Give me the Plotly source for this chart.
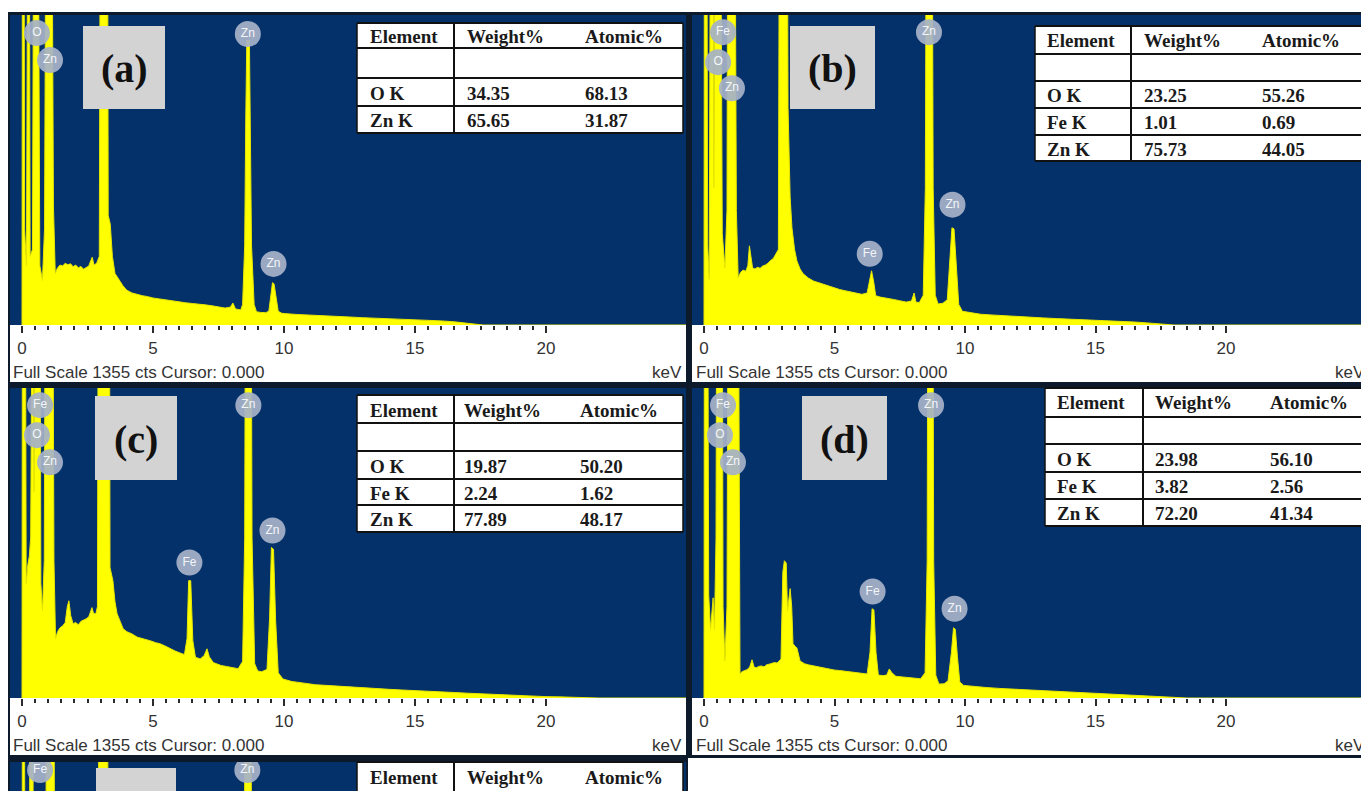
import plotly.graph_objects as go

W, H = 1369, 791
FULL_SCALE = 1355          # "Full Scale 1355 cts"
CURSOR = "0.000"
TICK_KEV = [0, 5, 10, 15, 20]
TABLE_HEADER = ["Element", "Weight%", "Atomic%"]

# ---------------- spectra: (keV, counts) ----------------
spectrum_a = [
    (0.00, 0), (0.02, 2500), (0.07, 2500), (0.10, 420), (0.17, 260), (0.24, 2500), (0.27, 2500),
    (0.31, 300), (0.40, 330), (0.46, 2500), (0.60, 2500), (0.68, 260), (0.78, 195), (0.86, 420),
    (0.93, 2500), (1.12, 2500), (1.20, 520), (1.27, 225), (1.35, 248), (1.45, 262), (1.55, 258),
    (1.65, 270), (1.75, 263), (1.85, 268), (1.95, 255), (2.05, 262), (2.15, 250), (2.25, 256),
    (2.35, 244), (2.45, 250), (2.55, 258), (2.62, 280), (2.68, 296), (2.75, 262), (2.85, 270),
    (2.95, 300), (3.00, 2500), (3.26, 2500), (3.29, 480), (3.37, 440), (3.45, 300), (3.55, 225),
    (3.65, 205), (3.75, 190), (3.85, 172), (4.00, 152), (4.20, 140), (4.40, 133), (4.60, 128),
    (4.80, 124), (5.00, 118), (5.25, 114), (5.50, 109), (5.75, 105), (6.00, 101), (6.25, 97),
    (6.50, 94), (6.75, 92), (7.00, 88), (7.25, 84), (7.50, 79), (7.75, 74), (7.95, 78),
    (8.05, 96), (8.15, 70), (8.35, 66), (8.42, 90), (8.50, 350), (8.54, 900), (8.58, 1245),
    (8.68, 1245), (8.72, 900), (8.76, 350), (8.86, 90), (8.95, 58), (9.10, 55), (9.30, 54),
    (9.42, 60), (9.50, 140), (9.56, 185), (9.62, 180), (9.70, 110), (9.78, 60), (9.90, 52),
    (10.0, 50), (10.5, 46), (11.0, 44), (11.5, 41), (12.0, 38), (12.5, 35), (13.0, 32),
    (13.5, 30), (14.0, 28), (14.5, 26), (15.0, 24), (15.5, 21), (16.0, 18), (16.5, 14),
    (17.0, 9), (17.3, 4), (17.6, 0), (25.5, 0),
]
spectrum_b = [
    (0.00, 0), (0.02, 2500), (0.10, 2500), (0.14, 350), (0.20, 200), (0.26, 2500), (0.34, 2500),
    (0.38, 600), (0.43, 2500), (0.62, 2500), (0.70, 400), (0.80, 250), (0.88, 500), (0.92, 2500),
    (1.17, 2500), (1.24, 500), (1.31, 206), (1.40, 230), (1.50, 240), (1.60, 235), (1.68, 260),
    (1.74, 346), (1.80, 300), (1.86, 250), (1.95, 245), (2.05, 252), (2.15, 248), (2.25, 258),
    (2.35, 262), (2.45, 270), (2.55, 282), (2.65, 290), (2.75, 310), (2.85, 330), (2.90, 2500),
    (3.18, 2500), (3.22, 950), (3.30, 560), (3.37, 425), (3.47, 330), (3.56, 280), (3.68, 245),
    (3.80, 224), (4.00, 205), (4.20, 192), (4.40, 184), (4.60, 178), (4.80, 170), (5.00, 162),
    (5.20, 155), (5.40, 150), (5.60, 145), (5.85, 140), (6.05, 134), (6.25, 140), (6.35, 200),
    (6.42, 237), (6.50, 190), (6.58, 128), (6.75, 122), (7.00, 118), (7.25, 112), (7.50, 106),
    (7.75, 100), (7.95, 105), (8.05, 140), (8.12, 100), (8.25, 98), (8.40, 130), (8.48, 600),
    (8.53, 2500), (8.73, 2500), (8.78, 600), (8.86, 130), (8.97, 92), (9.15, 95), (9.32, 110),
    (9.42, 300), (9.50, 425), (9.58, 420), (9.66, 280), (9.76, 90), (9.90, 60), (10.2, 53),
    (10.6, 47), (11.0, 44), (11.5, 40), (12.0, 37), (12.5, 34), (13.0, 31), (13.5, 28),
    (14.0, 26), (14.5, 24), (15.0, 22), (15.5, 19), (16.0, 16), (16.5, 13), (17.0, 9),
    (17.5, 5), (18.0, 0), (25.5, 0),
]
spectrum_c = [
    (0.00, 0), (0.02, 2500), (0.12, 2500), (0.16, 500), (0.22, 580), (0.28, 620), (0.33, 700),
    (0.36, 2500), (0.42, 2500), (0.46, 900), (0.50, 2500), (0.68, 2500), (0.72, 500), (0.78, 380),
    (0.85, 600), (0.90, 2500), (1.16, 2500), (1.22, 600), (1.28, 260), (1.36, 290), (1.45, 307),
    (1.55, 315), (1.65, 330), (1.73, 400), (1.79, 425), (1.86, 360), (1.95, 325), (2.05, 330),
    (2.15, 320), (2.25, 335), (2.35, 340), (2.45, 346), (2.55, 355), (2.62, 380), (2.67, 395),
    (2.73, 370), (2.82, 368), (2.88, 400), (2.92, 2500), (3.33, 2500), (3.36, 570), (3.47, 513),
    (3.55, 420), (3.63, 368), (3.75, 330), (3.86, 303), (4.00, 290), (4.20, 280), (4.40, 266),
    (4.50, 263), (4.70, 258), (4.90, 250), (5.10, 242), (5.27, 237), (5.45, 228), (5.65, 215),
    (5.85, 205), (6.03, 197), (6.20, 190), (6.30, 260), (6.36, 513), (6.44, 513), (6.52, 250),
    (6.62, 178), (6.80, 171), (6.95, 185), (7.06, 215), (7.15, 180), (7.30, 155), (7.44, 149),
    (7.60, 142), (7.80, 138), (8.05, 132), (8.25, 128), (8.42, 160), (8.50, 700), (8.54, 2500),
    (8.73, 2500), (8.78, 700), (8.88, 150), (9.00, 118), (9.15, 115), (9.35, 125), (9.45, 350),
    (9.52, 658), (9.60, 650), (9.68, 340), (9.78, 110), (9.96, 83), (10.3, 72), (10.7, 66),
    (11.2, 58), (11.9, 53), (12.5, 48), (13.0, 44), (13.5, 41), (14.0, 38), (14.5, 35),
    (15.0, 33), (15.5, 30), (16.0, 27), (16.5, 24), (17.0, 21), (17.5, 18), (18.0, 15),
    (18.5, 12), (19.0, 10), (19.5, 8), (20.0, 6), (20.5, 5), (21.0, 4), (21.5, 2), (22.0, 0),
    (25.5, 0),
]
spectrum_d = [
    (0.00, 0), (0.02, 2500), (0.13, 2500), (0.18, 450), (0.25, 300), (0.31, 380), (0.35, 438),
    (0.40, 300), (0.46, 700), (0.50, 2500), (0.69, 2500), (0.73, 400), (0.80, 162), (0.88, 400),
    (0.94, 2500), (1.30, 2500), (1.35, 400), (1.38, 105), (1.45, 115), (1.55, 118), (1.65, 124),
    (1.75, 135), (1.84, 167), (1.92, 135), (2.00, 132), (2.10, 138), (2.20, 140), (2.30, 136),
    (2.40, 145), (2.50, 148), (2.60, 150), (2.70, 155), (2.80, 153), (2.95, 170), (3.02, 550),
    (3.08, 600), (3.15, 590), (3.20, 380), (3.24, 420), (3.30, 478), (3.36, 400), (3.41, 237),
    (3.50, 225), (3.56, 219), (3.68, 162), (3.85, 150), (4.00, 145), (4.20, 140), (4.40, 136),
    (4.56, 132), (4.80, 127), (5.00, 122), (5.20, 120), (5.45, 116), (5.65, 114), (5.86, 110),
    (6.05, 106), (6.25, 105), (6.36, 200), (6.44, 390), (6.51, 385), (6.59, 200), (6.68, 100),
    (6.85, 98), (7.00, 100), (7.10, 127), (7.20, 110), (7.35, 95), (7.60, 92), (7.85, 88),
    (8.10, 86), (8.30, 84), (8.47, 110), (8.55, 600), (8.59, 2500), (8.76, 2500), (8.80, 600),
    (8.88, 100), (9.00, 61), (9.20, 62), (9.35, 75), (9.48, 200), (9.56, 307), (9.63, 300),
    (9.71, 180), (9.80, 70), (9.95, 55), (10.3, 50), (10.8, 46), (11.3, 42), (11.8, 39),
    (12.5, 35), (13.0, 32), (13.5, 29), (14.0, 27), (14.5, 25), (15.0, 22), (15.5, 19),
    (16.0, 16), (16.5, 13), (17.0, 10), (17.5, 6), (18.0, 3), (18.5, 0), (25.5, 0),
]
spectrum_e = [
    (0.00, 0), (0.02, 2500), (0.08, 2500), (0.12, 300), (0.28, 300), (0.31, 2500), (0.40, 2500),
    (0.44, 400), (0.90, 400), (0.95, 2500), (1.20, 2500), (1.26, 300), (2.90, 300), (2.95, 2500),
    (3.25, 2500), (3.30, 300), (8.45, 100), (8.55, 2500), (8.70, 2500), (8.80, 100), (25.5, 0),
]

# ---------------- peak identification labels: text, keV, counts ----------------
label_text_a = ["O", "Zn", "Zn", "Zn"]
label_kev_a = [0.57, 1.07, 8.62, 9.60]
label_cts_a = [1276, 1158, 1272, 267]

label_text_b = ["Fe", "O", "Zn", "Fe", "Zn", "Zn"]
label_kev_b = [0.73, 0.54, 1.07, 6.35, 8.62, 9.52]
label_cts_b = [1280, 1149, 1035, 311, 1280, 526]

label_text_c = ["Fe", "O", "Zn", "Fe", "Zn", "Zn"]
label_kev_c = [0.69, 0.57, 1.07, 6.39, 8.64, 9.56]
label_cts_c = [1280, 1149, 1030, 592, 1280, 732]

label_text_d = ["Fe", "O", "Zn", "Fe", "Zn", "Zn"]
label_kev_d = [0.73, 0.61, 1.11, 6.46, 8.70, 9.60]
label_cts_d = [1280, 1149, 1030, 465, 1280, 390]

label_text_e = ["Fe", "Zn"]
label_kev_e = [0.69, 8.60]
label_cts_e = [1320, 1320]

# ---------------- quantification tables ----------------
elements_a = ["O K", "Zn K"]
weight_a = ["34.35", "65.65"]
atomic_a = ["68.13", "31.87"]

elements_b = ["O K", "Fe K", "Zn K"]
weight_b = ["23.25", "1.01", "75.73"]
atomic_b = ["55.26", "0.69", "44.05"]

elements_c = ["O K", "Fe K", "Zn K"]
weight_c = ["19.87", "2.24", "77.89"]
atomic_c = ["50.20", "1.62", "48.17"]

elements_d = ["O K", "Fe K", "Zn K"]
weight_d = ["23.98", "3.82", "72.20"]
atomic_d = ["56.10", "2.56", "41.34"]

elements_e, weight_e, atomic_e = [], [], []

panel_names = ["(a)", "(b)", "(c)", "(d)", "(e)"]

# ---------------- styling / geometry (page pixels) ----------------
NAVY = "#05316b"
FRAME = "#0d1a2c"
YELLOW = "#ffff00"
BOXGRAY = "#d3d3d3"
TXT = "#333333"
SANS = "Liberation Sans, Arial, sans-serif"
SERIF = "Liberation Serif, Times New Roman, serif"
OX, OY = 8, 8   # page body margin in front of the plot div

geom = [
    dict(frame=(8, 12, 688, 385), navy=(10, 15, 686, 325), strip=(10, 325, 686, 382),
         zero=22, ppk=26.2, base=325, box=(83, 26, 165, 109),
         fs=(11, 372), kev=(684, 372),
         tx=(357, 454, 683), rows=[23, 48, 78, 106, 133], cols=[368, 465, 583]),
    dict(frame=(688, 12, 1377, 385), navy=(692, 15, 1377, 325), strip=(692, 325, 1377, 382),
         zero=704, ppk=26.1, base=325, box=(790, 26, 875, 109),
         fs=(694, 372), kev=(1367, 372),
         tx=(1035, 1131, 1363), rows=[26, 54, 81, 108, 135, 161], cols=[1045, 1142, 1260]),
    dict(frame=(8, 385, 688, 758), navy=(10, 388, 686, 698), strip=(10, 698, 686, 755),
         zero=22, ppk=26.2, base=698, box=(95, 396, 177, 480),
         fs=(11, 745), kev=(684, 745),
         tx=(357, 454, 683), rows=[395, 423, 451, 479, 505, 532], cols=[368, 462, 578]),
    dict(frame=(688, 385, 1377, 758), navy=(692, 388, 1377, 698), strip=(692, 698, 1377, 755),
         zero=704, ppk=26.1, base=698, box=(802, 396, 887, 480),
         fs=(694, 745), kev=(1367, 745),
         tx=(1045, 1143, 1366), rows=[388, 417, 444, 472, 499, 526], cols=[1055, 1153, 1268]),
    dict(frame=(8, 758, 688, 799), navy=(10, 762, 686, 799), strip=None,
         zero=22, ppk=26.2, base=1072, box=(96, 768, 176, 852),
         fs=None, kev=None,
         tx=(357, 454, 683), rows=[762, 799], cols=[368, 465, 583]),
]
spectra = [spectrum_a, spectrum_b, spectrum_c, spectrum_d, spectrum_e]
labels = [(label_text_a, label_kev_a, label_cts_a), (label_text_b, label_kev_b, label_cts_b),
          (label_text_c, label_kev_c, label_cts_c), (label_text_d, label_kev_d, label_cts_d),
          (label_text_e, label_kev_e, label_cts_e)]
tables = [(elements_a, weight_a, atomic_a), (elements_b, weight_b, atomic_b),
          (elements_c, weight_c, atomic_c), (elements_d, weight_d, atomic_d),
          (elements_e, weight_e, atomic_e)]

FULL_H = 310  # pixel height of the full scale

fig = go.Figure()
shapes, annos = [], []


def fx(px):
    return (px - OX) / W


def fy(py):
    return 1 - (py - OY) / H


def rect(box, fill, layer="below"):
    x0, y0, x1, y1 = box
    shapes.append(dict(type="rect", xref="paper", yref="paper", x0=fx(x0), x1=fx(x1),
                       y0=fy(y1), y1=fy(y0), fillcolor=fill, line=dict(width=0), layer=layer))


def seg(x0, y0, x1, y1, w=2, color="#111111"):
    shapes.append(dict(type="line", xref="paper", yref="paper", x0=fx(x0), x1=fx(x1),
                       y0=fy(y0), y1=fy(y1), line=dict(width=w, color=color), layer="above"))


def text(px, py, s, size, family, color, xanchor="left"):
    annos.append(dict(xref="paper", yref="paper", x=fx(px), y=fy(py), text=s, showarrow=False,
                      xanchor=xanchor, yanchor="middle",
                      font=dict(size=size, family=family, color=color)))


minor_vals = [v / 2 for v in range(1, 40) if v % 10 != 0]
layout_axes = {}

for i, (g, spec, lab, tab, name) in enumerate(zip(geom, spectra, labels, tables, panel_names), start=1):
    sfx = "" if i == 1 else str(i)
    nx0, ny0, nx1, ny1 = g["navy"]
    rect(g["frame"], FRAME)
    if g["strip"]:
        rect(g["strip"], "#ffffff")
    rect(g["navy"], NAVY)

    cpp = FULL_SCALE / FULL_H
    xr = [(nx0 - g["zero"]) / g["ppk"], (nx1 - g["zero"]) / g["ppk"]]
    yr = [(g["base"] - ny1) * cpp, (g["base"] - ny0) * cpp]
    has_axis = g["strip"] is not None
    layout_axes["xaxis" + sfx] = dict(
        domain=[max(0, fx(nx0)), min(1, fx(nx1))], range=xr, anchor="y" + sfx,
        showgrid=False, zeroline=False, showline=False, fixedrange=True,
        tickmode="array", tickvals=TICK_KEV, ticktext=[str(t) for t in TICK_KEV],
        ticks="outside" if has_axis else "", showticklabels=has_axis,
        ticklen=7, tickwidth=1.5, tickcolor="#2b2b2b", ticklabelstandoff=1,
        tickfont=dict(size=17, family=SANS, color=TXT),
        minor=dict(tickmode="array", tickvals=minor_vals, ticks="outside" if has_axis else "",
                   ticklen=4, tickwidth=1.5, tickcolor="#2b2b2b", showgrid=False),
    )
    layout_axes["yaxis" + sfx] = dict(domain=[max(0, fy(ny1)), min(1, fy(ny0))], range=yr,
                                      anchor="x" + sfx, visible=False, fixedrange=True)
    if fy(ny1) < 0:  # panel cut by the bottom edge: keep the scale, shrink the range
        layout_axes["yaxis" + sfx]["range"] = [(g["base"] - (H + OY)) * cpp, yr[1]]
    if fx(nx1) > 1:
        layout_axes["xaxis" + sfx]["range"] = [xr[0], ((W + OX) - g["zero"]) / g["ppk"]]

    fig.add_trace(go.Scatter(
        x=[p[0] for p in spec], y=[p[1] for p in spec], mode="lines", fill="tozeroy",
        fillcolor=YELLOW, line=dict(color="#e6e600", width=1),
        xaxis="x" + sfx, yaxis="y" + sfx, hoverinfo="skip", showlegend=False))
    lt, lk, lc = lab
    fig.add_trace(go.Scatter(
        x=lk, y=lc, mode="markers+text", text=lt, textposition="middle center",
        marker=dict(size=26, color="rgba(166,178,200,0.93)", line=dict(width=0)),
        textfont=dict(size=12, family=SANS, color="#f4f6fa"),
        xaxis="x" + sfx, yaxis="y" + sfx, hoverinfo="skip", showlegend=False))

    # panel letter box
    rect(g["box"], BOXGRAY, layer="above")
    bx0, by0, bx1, by1 = g["box"]
    if (by0 + by1) / 2 < H - 20:
        text((bx0 + bx1) / 2, (by0 + by1) / 2 + 1, "<b>" + name + "</b>", 40, SERIF, "#111111", "center")

    # strip texts
    if g["fs"]:
        text(g["fs"][0], g["fs"][1], f"Full Scale {FULL_SCALE} cts Cursor: {CURSOR}", 17, SANS, TXT)
        text(g["kev"][0], g["kev"][1], "keV", 17, SANS, TXT, "right")

    # quantification table
    tl, tdiv, tr = g["tx"]
    rows = g["rows"]
    rect((tl, rows[0], tr, rows[-1]), "#ffffff", layer="above")
    for r in rows:
        seg(tl, r, tr, r, w=2.2)
    seg(tl, rows[0], tl, rows[-1], w=1.5)
    seg(tr, rows[0], tr, rows[-1], w=1.5)
    seg(tdiv, rows[0], tdiv, rows[-1], w=2)
    c0, c1, c2 = g["cols"]
    ym = min((rows[0] + rows[1]) / 2, rows[0] + 14) + 1
    for cx, h in zip((c0, c1, c2), TABLE_HEADER):
        text(cx, ym, "<b>" + h + "</b>", 19, SERIF, "#1a1a1a")
    els, wts, ats = tab
    for j, (el, wt, at) in enumerate(zip(els, wts, ats)):
        yr_mid = (rows[2 + j] + rows[3 + j]) / 2 + 1
        text(c0, yr_mid, "<b>" + el + "</b>", 19, SERIF, "#1a1a1a")
        text(c1, yr_mid, "<b>" + wt + "</b>", 19, SERIF, "#1a1a1a")
        text(c2, yr_mid, "<b>" + at + "</b>", 19, SERIF, "#1a1a1a")

fig.update_layout(
    width=W, height=H, margin=dict(l=0, r=0, t=0, b=0),
    paper_bgcolor="#ffffff", plot_bgcolor="rgba(0,0,0,0)",
    showlegend=False, shapes=shapes, annotations=annos, **layout_axes,
)

fig.write_html("out.html")
